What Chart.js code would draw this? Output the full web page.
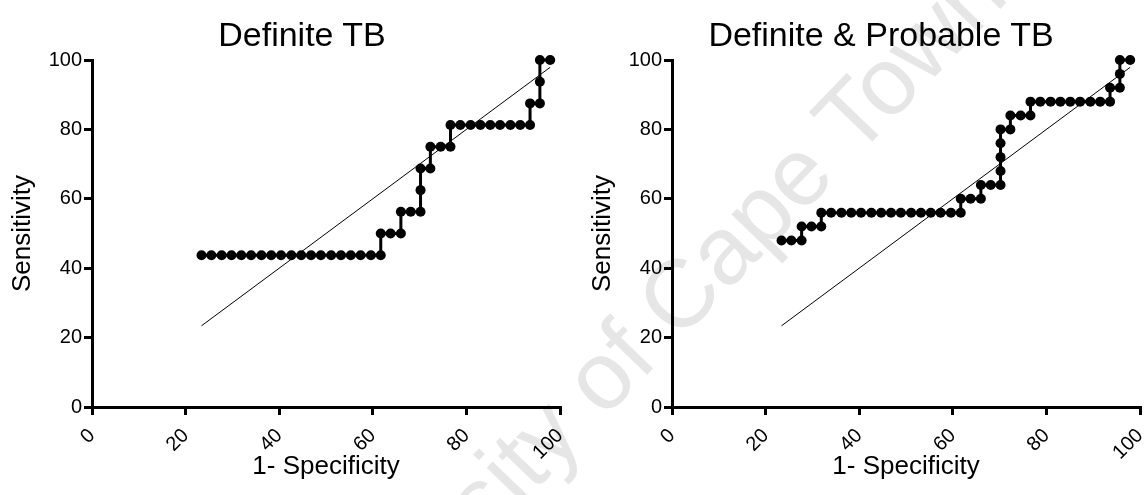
<!DOCTYPE html>
<html>
<head>
<meta charset="utf-8">
<script src="https://cdn.jsdelivr.net/npm/chart.js@4.4.0/dist/chart.umd.min.js"></script>
<style>
    html, body { margin: 0; padding: 0; background: #fff; overflow: hidden; }
    #page { position: relative; width: 1145px; height: 495px; overflow: hidden; font-family: "Liberation Sans", Arial, sans-serif; }
    canvas { position: absolute; top: 0; z-index: 1; }
    .title { position: absolute; top: 14px; width: 500px; line-height: 40px; font-size: 34px; color: #000; text-align: center; z-index: 2; }
    #stamp { position: absolute; left: 628px; top: 347px; transform: translate(-50%, -50%) rotate(-46deg); font-size: 96px; color: #e6e6e6; white-space: nowrap; z-index: 0; }
</style>
</head>
<body>
<div id="page">
    <div id="stamp">University of Cape Town</div>
    <div class="title" style="left:52px">Definite TB</div>
    <div class="title" style="left:631px">Definite &amp; Probable TB</div>
    <canvas id="chartDefinite" width="604" height="495" style="left:0"></canvas>
    <canvas id="chartProbable" width="600" height="495" style="left:580px"></canvas>
</div>
<script>
// ROC steps, definite TB (1-specificity %, sensitivity %)
const definiteX = [23.4, 25.5, 27.7, 29.8, 31.9, 34.0, 36.2, 38.3, 40.4, 42.6, 44.7, 46.8, 48.9, 51.1, 53.2, 55.3, 57.4, 59.6, 61.7,
    61.7, 63.8, 66.0, 66.0, 68.1, 70.2, 70.2, 70.2, 72.3, 72.3, 74.5, 76.6,
    76.6, 78.7, 80.9, 83.0, 85.1, 87.2, 89.4, 91.5, 93.6, 93.6, 95.7, 95.7, 95.7, 97.9];
const definiteY = [43.75, 43.75, 43.75, 43.75, 43.75, 43.75, 43.75, 43.75, 43.75, 43.75, 43.75, 43.75, 43.75, 43.75, 43.75, 43.75, 43.75, 43.75, 43.75,
    50, 50, 50, 56.25, 56.25, 56.25, 62.5, 68.75, 68.75, 75, 75, 75,
    81.25, 81.25, 81.25, 81.25, 81.25, 81.25, 81.25, 81.25, 81.25, 87.5, 87.5, 93.75, 100, 100];

// ROC steps, definite & probable TB
const probableX = [23.4, 25.5, 27.7, 27.7, 29.8, 31.9,
    31.9, 34.0, 36.2, 38.3, 40.4, 42.6, 44.7, 46.8, 48.9, 51.1, 53.2, 55.3, 57.4, 59.6, 61.7,
    61.7, 63.8, 66.0, 66.0, 68.1, 70.2, 70.2, 70.2, 70.2, 70.2, 72.3,
    72.3, 74.5, 76.6, 76.6, 78.7, 80.9, 83.0, 85.1, 87.2, 89.4, 91.5, 93.6,
    93.6, 95.7, 95.7, 95.7, 97.9];
const probableY = [48, 48, 48, 52, 52, 52,
    56, 56, 56, 56, 56, 56, 56, 56, 56, 56, 56, 56, 56, 56, 56,
    60, 60, 60, 64, 64, 64, 68, 72, 76, 80, 80,
    84, 84, 84, 88, 88, 88, 88, 88, 88, 88, 88, 88,
    92, 92, 96, 100, 100];

// reference line end points
const refLineX = [23.4, 97.9];
const refLineY = [23.4, 97.9];

const axisTicks = [0, 20, 40, 60, 80, 100];

const fontFamily = '"Liberation Sans", Arial, sans-serif';

function toPoints(xs, ys) {
    return xs.map((x, i) => ({ x: x, y: ys[i] }));
}

function axis(titleText, isX) {
    const opts = {
        type: 'linear',
        min: 0,
        max: 100,
        afterBuildTicks: (scale) => {
            scale.ticks = axisTicks.map(v => ({ value: v }));
        },
        ticks: {
            color: '#000',
            font: { family: fontFamily, size: 20 },
            padding: isX ? 9 : 2
        },
        grid: {
            drawOnChartArea: false,
            drawTicks: true,
            tickLength: 8,
            lineWidth: 3,
            color: '#000'
        },
        border: { display: true, width: 3, color: '#000' },
        title: {
            display: true,
            text: titleText,
            color: '#000',
            font: { family: fontFamily, size: 26 },
            padding: isX ? { top: 0, bottom: 13 } : { top: 7, bottom: 0 }
        }
    };
    if (isX) {
        opts.ticks.minRotation = 45;
        opts.ticks.maxRotation = 45;
        opts.afterFit = (scale) => { scale.height = 88; };
    } else {
        opts.afterFit = (scale) => { scale.width = 92; };
    }
    return opts;
}

function makeChart(id, xs, ys, padRight) {
    const ctx = document.getElementById(id).getContext('2d');
    return new Chart(ctx, {
        type: 'scatter',
        data: {
            datasets: [
                {
                    data: toPoints(xs, ys),
                    showLine: true,
                    borderColor: '#000',
                    borderWidth: 3,
                    pointRadius: 5,
                    pointBorderWidth: 0,
                    pointBackgroundColor: '#000',
                    clip: false
                },
                {
                    data: toPoints(refLineX, refLineY),
                    showLine: true,
                    borderColor: '#000',
                    borderWidth: 1,
                    pointRadius: 0,
                    clip: false
                }
            ]
        },
        options: {
            responsive: false,
            animation: false,
            layout: { padding: { top: 60, right: padRight, left: 0, bottom: 0 } },
            plugins: {
                legend: { display: false },
                tooltip: { enabled: false }
            },
            scales: {
                x: axis('1- Specificity', true),
                y: axis('Sensitivity', false)
            }
        }
    });
}

makeChart('chartDefinite', definiteX, definiteY, 44);
makeChart('chartProbable', probableX, probableY, 40);
</script>
</body>
</html>
